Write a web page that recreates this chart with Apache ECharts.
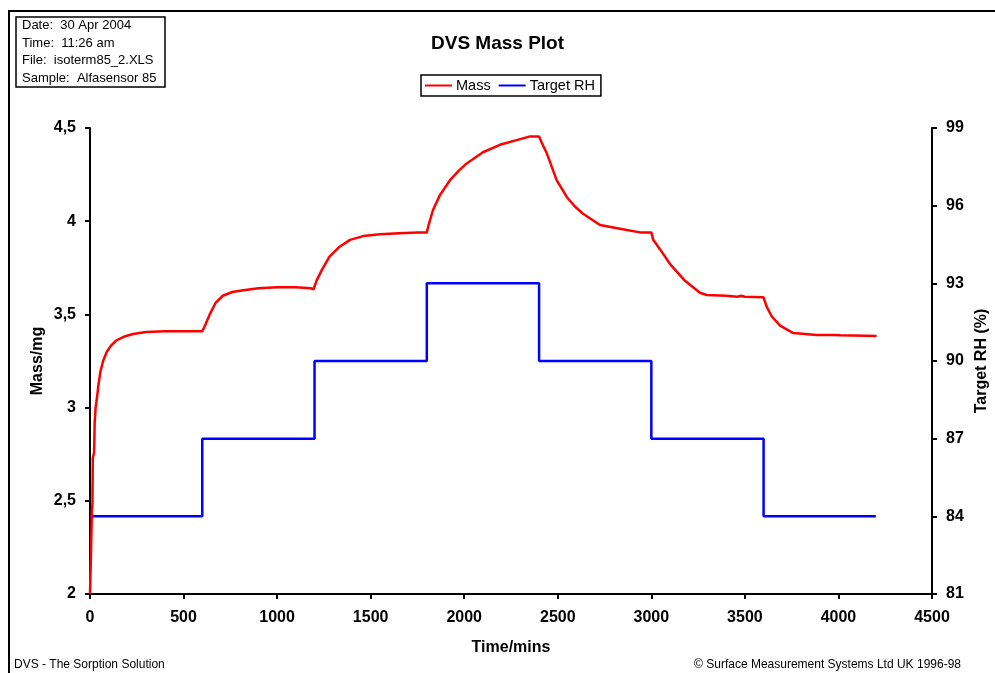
<!DOCTYPE html>
<html>
<head>
<meta charset="utf-8">
<script src="https://cdn.jsdelivr.net/npm/echarts@6/dist/echarts.min.js"></script>
<style>html,body{margin:0;padding:0;background:#fff;overflow:hidden;}#chart{width:995px;height:673px;}</style>
</head>
<body>
<div id="chart"></div>
<script>
// ---- data ----
const massTime = [0, 5, 10, 13, 15, 22, 25, 30, 37, 45, 55, 70, 90, 110, 140, 180, 230, 300, 400, 500, 600,
  610, 640, 670, 710, 760, 820, 900, 1000, 1100, 1180, 1195, 1200,
  1210, 1240, 1280, 1330, 1390, 1460, 1550, 1650, 1750, 1800,
  1810, 1833, 1870, 1924, 1970, 2013, 2100, 2191, 2280, 2352, 2400,
  2415, 2441, 2494, 2548, 2590, 2635, 2726, 2833, 2939, 3000,
  3010, 3046, 3100, 3180, 3260, 3296, 3400, 3460, 3480, 3500, 3599,
  3617, 3643, 3688, 3759, 3884, 3985, 3991, 4010, 4204];
const massValue = [2.0, 2.2, 2.45, 2.48, 2.73, 2.76, 2.92, 3.0, 3.05, 3.12, 3.19, 3.25, 3.3, 3.33, 3.36, 3.38, 3.395, 3.405, 3.41, 3.41, 3.41,
  3.43, 3.50, 3.56, 3.60, 3.62, 3.63, 3.64, 3.645, 3.645, 3.64, 3.635, 3.64,
  3.68, 3.74, 3.81, 3.86, 3.90, 3.92, 3.93, 3.935, 3.94, 3.94,
  3.98, 4.06, 4.14, 4.22, 4.27, 4.31, 4.37, 4.41, 4.435, 4.455, 4.455,
  4.42, 4.365, 4.22, 4.13, 4.08, 4.04, 3.98, 3.96, 3.94, 3.94,
  3.90, 3.85, 3.77, 3.68, 3.616, 3.604, 3.60, 3.595, 3.60, 3.595, 3.592,
  3.54, 3.49, 3.44, 3.40, 3.39, 3.39, 3.398, 3.388, 3.384];
const rhTime = [0, 600, 1200, 1800, 2400, 3000, 3600, 4200];
const rhValue = [84, 87, 90, 93, 90, 87, 84, 84];
const massTickLabels = {2: '2', 2.5: '2,5', 3: '3', 3.5: '3,5', 4: '4', 4.5: '4,5'};
const infoLines = ['Date:  30 Apr 2004', 'Time:  11:26 am', 'File:  isoterm85_2.XLS', 'Sample:  Alfasensor 85'];

const FONT = '"Liberation Sans", Arial, sans-serif';
const chart = echarts.init(document.getElementById('chart'), null, {renderer: 'canvas'});

const axisCommon = {
  axisLine: {show: true, lineStyle: {color: '#000', width: 2}},
  axisTick: {show: true, length: 5, lineStyle: {color: '#000', width: 2}},
  splitLine: {show: false},
  nameMoveOverlap: false,
  nameTextStyle: {fontFamily: FONT, fontWeight: 'bold', fontSize: 16, color: '#000'},
};

chart.setOption({
  animation: false,
  backgroundColor: '#fff',
  title: {
    text: 'DVS Mass Plot', left: 'center', top: 34, padding: 0,
    textStyle: {fontFamily: FONT, fontWeight: 'bold', fontSize: 19, color: '#000'}
  },
  legend: {
    left: 421, top: 75, padding: [3, 6, 3, 4], itemGap: 8, itemWidth: 27, itemHeight: 2,
    borderColor: '#000', borderWidth: 1.5, icon: 'rect',
    textStyle: {fontFamily: FONT, fontSize: 14.5, color: '#000', padding: [0, 0, 0, -1]},
    data: ['Mass', 'Target RH']
  },
  grid: {left: 90, right: 63, top: 128, bottom: 79, containLabel: false, outerBoundsMode: 'none'},
  xAxis: Object.assign({}, axisCommon, {
    type: 'value', min: 0, max: 4500, interval: 500,
    name: 'Time/mins', nameLocation: 'middle', nameGap: 46,
    axisLabel: {margin: 16, fontFamily: FONT, fontWeight: 'bold', fontSize: 16, color: '#000',
      formatter: v => String(v)}
  }),
  yAxis: [
    Object.assign({}, axisCommon, {
      type: 'value', min: 2, max: 4.5, interval: 0.5, position: 'left',
      name: 'Mass/mg', nameLocation: 'middle', nameGap: 44,
      axisLabel: {margin: 14, fontFamily: FONT, fontWeight: 'bold', fontSize: 16, color: '#000',
        formatter: v => massTickLabels[v] !== undefined ? massTickLabels[v] : String(v).replace('.', ',')}
    }),
    Object.assign({}, axisCommon, {
      type: 'value', min: 81, max: 99, interval: 3, position: 'right',
      name: 'Target RH (%)', nameLocation: 'middle', nameGap: 42, nameRotate: 90,
      axisLabel: {margin: 14, fontFamily: FONT, fontWeight: 'bold', fontSize: 16, color: '#000'}
    })
  ],
  series: [
    {
      name: 'Mass', type: 'line', yAxisIndex: 0, showSymbol: false, symbol: 'none',
      lineStyle: {color: '#ff0000', width: 2.5}, itemStyle: {color: '#ff0000'},
      data: massTime.map((t, i) => [t, massValue[i]]), z: 3
    },
    {
      name: 'Target RH', type: 'line', yAxisIndex: 1, showSymbol: false, symbol: 'none', step: 'end',
      lineStyle: {color: '#0000ff', width: 2.5}, itemStyle: {color: '#0000ff'},
      data: rhTime.map((t, i) => [t, rhValue[i]]), z: 2
    }
  ],
  graphic: [
    {type: 'rect', shape: {x: 9, y: 11, width: 1000, height: 700}, style: {fill: null, stroke: '#000', lineWidth: 2}, silent: true},
    {type: 'rect', shape: {x: 16, y: 17, width: 149, height: 70}, style: {fill: '#fff', stroke: '#000', lineWidth: 1.5}},
    ...infoLines.map((s, i) => ({
      type: 'text', left: 22, top: 19 + i * 17.7,
      style: {text: s, font: '13px ' + FONT, fill: '#000'}
    })),
    {type: 'text', left: 14, top: 659, style: {text: 'DVS - The Sorption Solution', font: '12px ' + FONT, fill: '#000'}},
    {type: 'text', right: 34, top: 659, style: {text: '\u00A9 Surface Measurement Systems Ltd UK 1996-98', font: '12px ' + FONT, fill: '#000'}}
  ]
});
</script>
</body>
</html>
